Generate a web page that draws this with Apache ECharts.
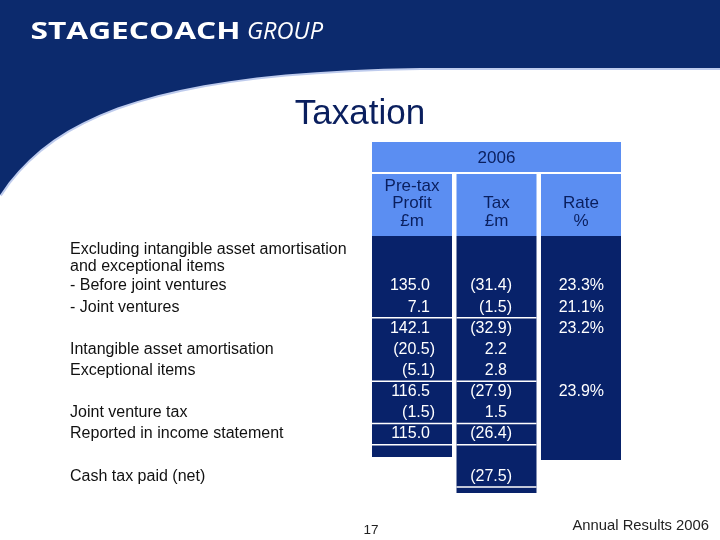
<!DOCTYPE html>
<html>
<head>
<meta charset="utf-8">
<script src="https://cdn.jsdelivr.net/npm/echarts@6/dist/echarts.min.js"></script>
<style>
html, body { margin: 0; padding: 0; background: #fff; }
#main { width: 720px; height: 540px; }
</style>
</head>
<body>
<div id="main"></div>
<script>
// table data
var rowLabels = ['Excluding intangible asset amortisation\nand exceptional items', '- Before joint ventures', '- Joint ventures',
    'Intangible asset amortisation', 'Exceptional items', 'Joint venture tax', 'Reported in income statement', 'Cash tax paid (net)'];
var rowLabelRows = [-1.3, 0, 1, 3, 4, 6, 7, 9];
var colHeads = ['Pre-tax\nProfit\n£m', 'Tax\n£m', 'Rate\n%'];
var yearLabel = '2006';
var pretax = [135.0, 7.1, 142.1, -20.5, -5.1, 116.5, -1.5, 115.0];
var tax = [-31.4, -1.5, -32.9, 2.2, 2.8, -27.9, 1.5, -26.4, null, -27.5];
var rate = [23.3, 21.1, 23.2, null, null, 23.9];
var subtotalRows = [[1.5, 4.5, 6.5, 7.5], [1.5, 4.5, 6.5, 7.5, 9.5], []];

var NAVY = '#0c2a6d';
var BODY = '#08226a';
var LIGHT = '#5b8ef2';
var FONT = "'Liberation Sans', Arial, sans-serif";
var HW = 0.4734;          // half column width in axis units
var bodyEnds = [8.09, 9.79, 8.23];

var numData = [];
[pretax, tax, rate].forEach(function (arr, c) {
    arr.forEach(function (v, r) {
        if (v != null) numData.push([c, r, v]);
    });
});

function fmt(v, c) {
    if (c === 2) return v.toFixed(1) + '%';
    return v < 0 ? '(' + Math.abs(v).toFixed(1) + ')' : v.toFixed(1);
}

// px offsets of the paren edge from column centre
var rightEdge = [23, 15.5, 23];

// header swoosh outline
var curve = [[720, 68], [420, 68]];
for (var t = 0.05; t <= 1.0001; t += 0.05) {
    var u = 1 - t;
    curve.push([
        u * u * u * 420 + 3 * u * u * t * 170 + 3 * u * t * t * 55 + t * t * t * 0,
        u * u * u * 68 + 3 * u * u * t * 72 + 3 * u * t * t * 110 + t * t * t * 195
    ]);
}
var band = [[0, 0], [720, 0]].concat(curve);

function measure(text, font) {
    var ctx = document.createElement('canvas').getContext('2d');
    ctx.font = font;
    return ctx.measureText(text).width;
}
var logoFont1 = "bold 24px 'Open Sans'";
var logoFont2 = "italic 24px 'Open Sans'";
var w1 = measure('STAGECOACH', logoFont1);
var w2 = measure('GROUP', logoFont2);

var chart = echarts.init(document.getElementById('main'));
var option = {
    animation: false,
    backgroundColor: '#fff',
    grid: { left: 74, right: 54.5, top: 137.95, bottom: 0.2 },
    xAxis: { type: 'value', min: -4, max: 3, show: false },
    yAxis: { type: 'value', min: -7, max: 12, inverse: true, show: false },
    graphic: [
        {
            type: 'polyline', z: -11,
            shape: { points: curve },
            style: { stroke: 'rgba(110,140,215,0.45)', lineWidth: 4, fill: null }
        },
        {
            type: 'polygon', z: -10,
            shape: { points: band },
            style: { fill: NAVY }
        },
        {
            type: 'text', x: 30.5, y: 32, scaleX: 210 / w1, z: 5,
            style: { text: 'STAGECOACH', font: logoFont1, fill: '#fff', verticalAlign: 'middle',
                shadowColor: 'rgba(0,0,0,0.6)', shadowBlur: 2, shadowOffsetX: 1, shadowOffsetY: 1 }
        },
        {
            type: 'text', x: 247, y: 32, scaleX: 76 / w2, z: 5,
            style: { text: 'GROUP', font: logoFont2, fill: '#fff', verticalAlign: 'middle',
                shadowColor: 'rgba(0,0,0,0.6)', shadowBlur: 2, shadowOffsetX: 1, shadowOffsetY: 1 }
        },
        {
            type: 'text', x: 360, y: 114,
            style: { text: 'Taxation', font: '35px ' + FONT, fill: '#0a1f5e', align: 'center', verticalAlign: 'middle' }
        },
        {
            type: 'text', x: 371, y: 530,
            style: { text: '17', font: '13.5px ' + FONT, fill: '#222', align: 'center', verticalAlign: 'middle' }
        },
        {
            type: 'text', x: 709, y: 526,
            style: { text: 'Annual Results 2006', font: '14.8px ' + FONT, fill: '#222', align: 'right', verticalAlign: 'middle' }
        }
    ],
    series: [
        {
            // year header across all three columns
            type: 'custom', clip: false, silent: true,
            data: [[1, -6.05]],
            renderItem: function (params, api) {
                var a = api.coord([0 - HW, -6.81]);
                var b = api.coord([2 + HW, -5.39]);
                var m = api.coord([api.value(0), api.value(1)]);
                return {
                    type: 'group', children: [
                        { type: 'rect', shape: { x: a[0], y: a[1], width: b[0] - a[0], height: b[1] - a[1] }, style: { fill: LIGHT } },
                        { type: 'text', x: m[0], y: m[1], style: { text: yearLabel, font: '17px ' + FONT, fill: '#0a1f5e', align: 'center', verticalAlign: 'middle' } }
                    ]
                };
            }
        },
        {
            // column header cells, body and subtotal rules
            type: 'custom', clip: false, silent: true,
            data: [[0], [1], [2]],
            renderItem: function (params, api) {
                var c = api.value(0);
                var i = params.dataIndex;
                var h0 = api.coord([c - HW, -5.30]);
                var h1 = api.coord([c + HW, -2.36]);
                var b1 = api.coord([c + HW, bodyEnds[i]]);
                var mid = api.coord([c, -2.65]);
                var kids = [
                    { type: 'rect', shape: { x: h0[0], y: h0[1], width: h1[0] - h0[0], height: h1[1] - h0[1] }, style: { fill: LIGHT } },
                    { type: 'rect', shape: { x: h0[0], y: h1[1], width: h1[0] - h0[0], height: b1[1] - h1[1] }, style: { fill: BODY } },
                    { type: 'text', x: mid[0], y: mid[1], style: { text: colHeads[i], font: '17px ' + FONT, lineHeight: 17.5, fill: '#0a1f5e', align: 'center', verticalAlign: 'bottom' } }
                ];
                subtotalRows[i].forEach(function (r) {
                    var p = api.coord([c, r]);
                    kids.push({ type: 'line', shape: { x1: h0[0], y1: p[1], x2: h1[0], y2: p[1] }, style: { stroke: '#fff', lineWidth: 1.5 } });
                });
                return { type: 'group', children: kids };
            }
        },
        {
            // numbers
            type: 'custom', clip: false, silent: true, z: 3,
            data: numData,
            renderItem: function (params, api) {
                var c = api.value(0), v = api.value(2);
                var p = api.coord([c, api.value(1)]);
                var x = p[0] + rightEdge[c] - (c < 2 && v >= 0 ? 5 : 0);
                return { type: 'text', x: x, y: p[1], style: { text: fmt(v, c), font: '16px ' + FONT, fill: '#fff', align: 'right', verticalAlign: 'middle' } };
            }
        },
        {
            // row labels
            type: 'custom', clip: false, silent: true,
            data: rowLabelRows.map(function (r) { return [-4.047, r]; }),
            renderItem: function (params, api) {
                var p = api.coord([api.value(0), api.value(1)]);
                return { type: 'text', x: p[0], y: p[1], style: { text: rowLabels[params.dataIndex], font: '16px ' + FONT, lineHeight: 17, fill: '#111', align: 'left', verticalAlign: 'middle' } };
            }
        }
    ]
};
chart.setOption(option);
</script>
</body>
</html>
